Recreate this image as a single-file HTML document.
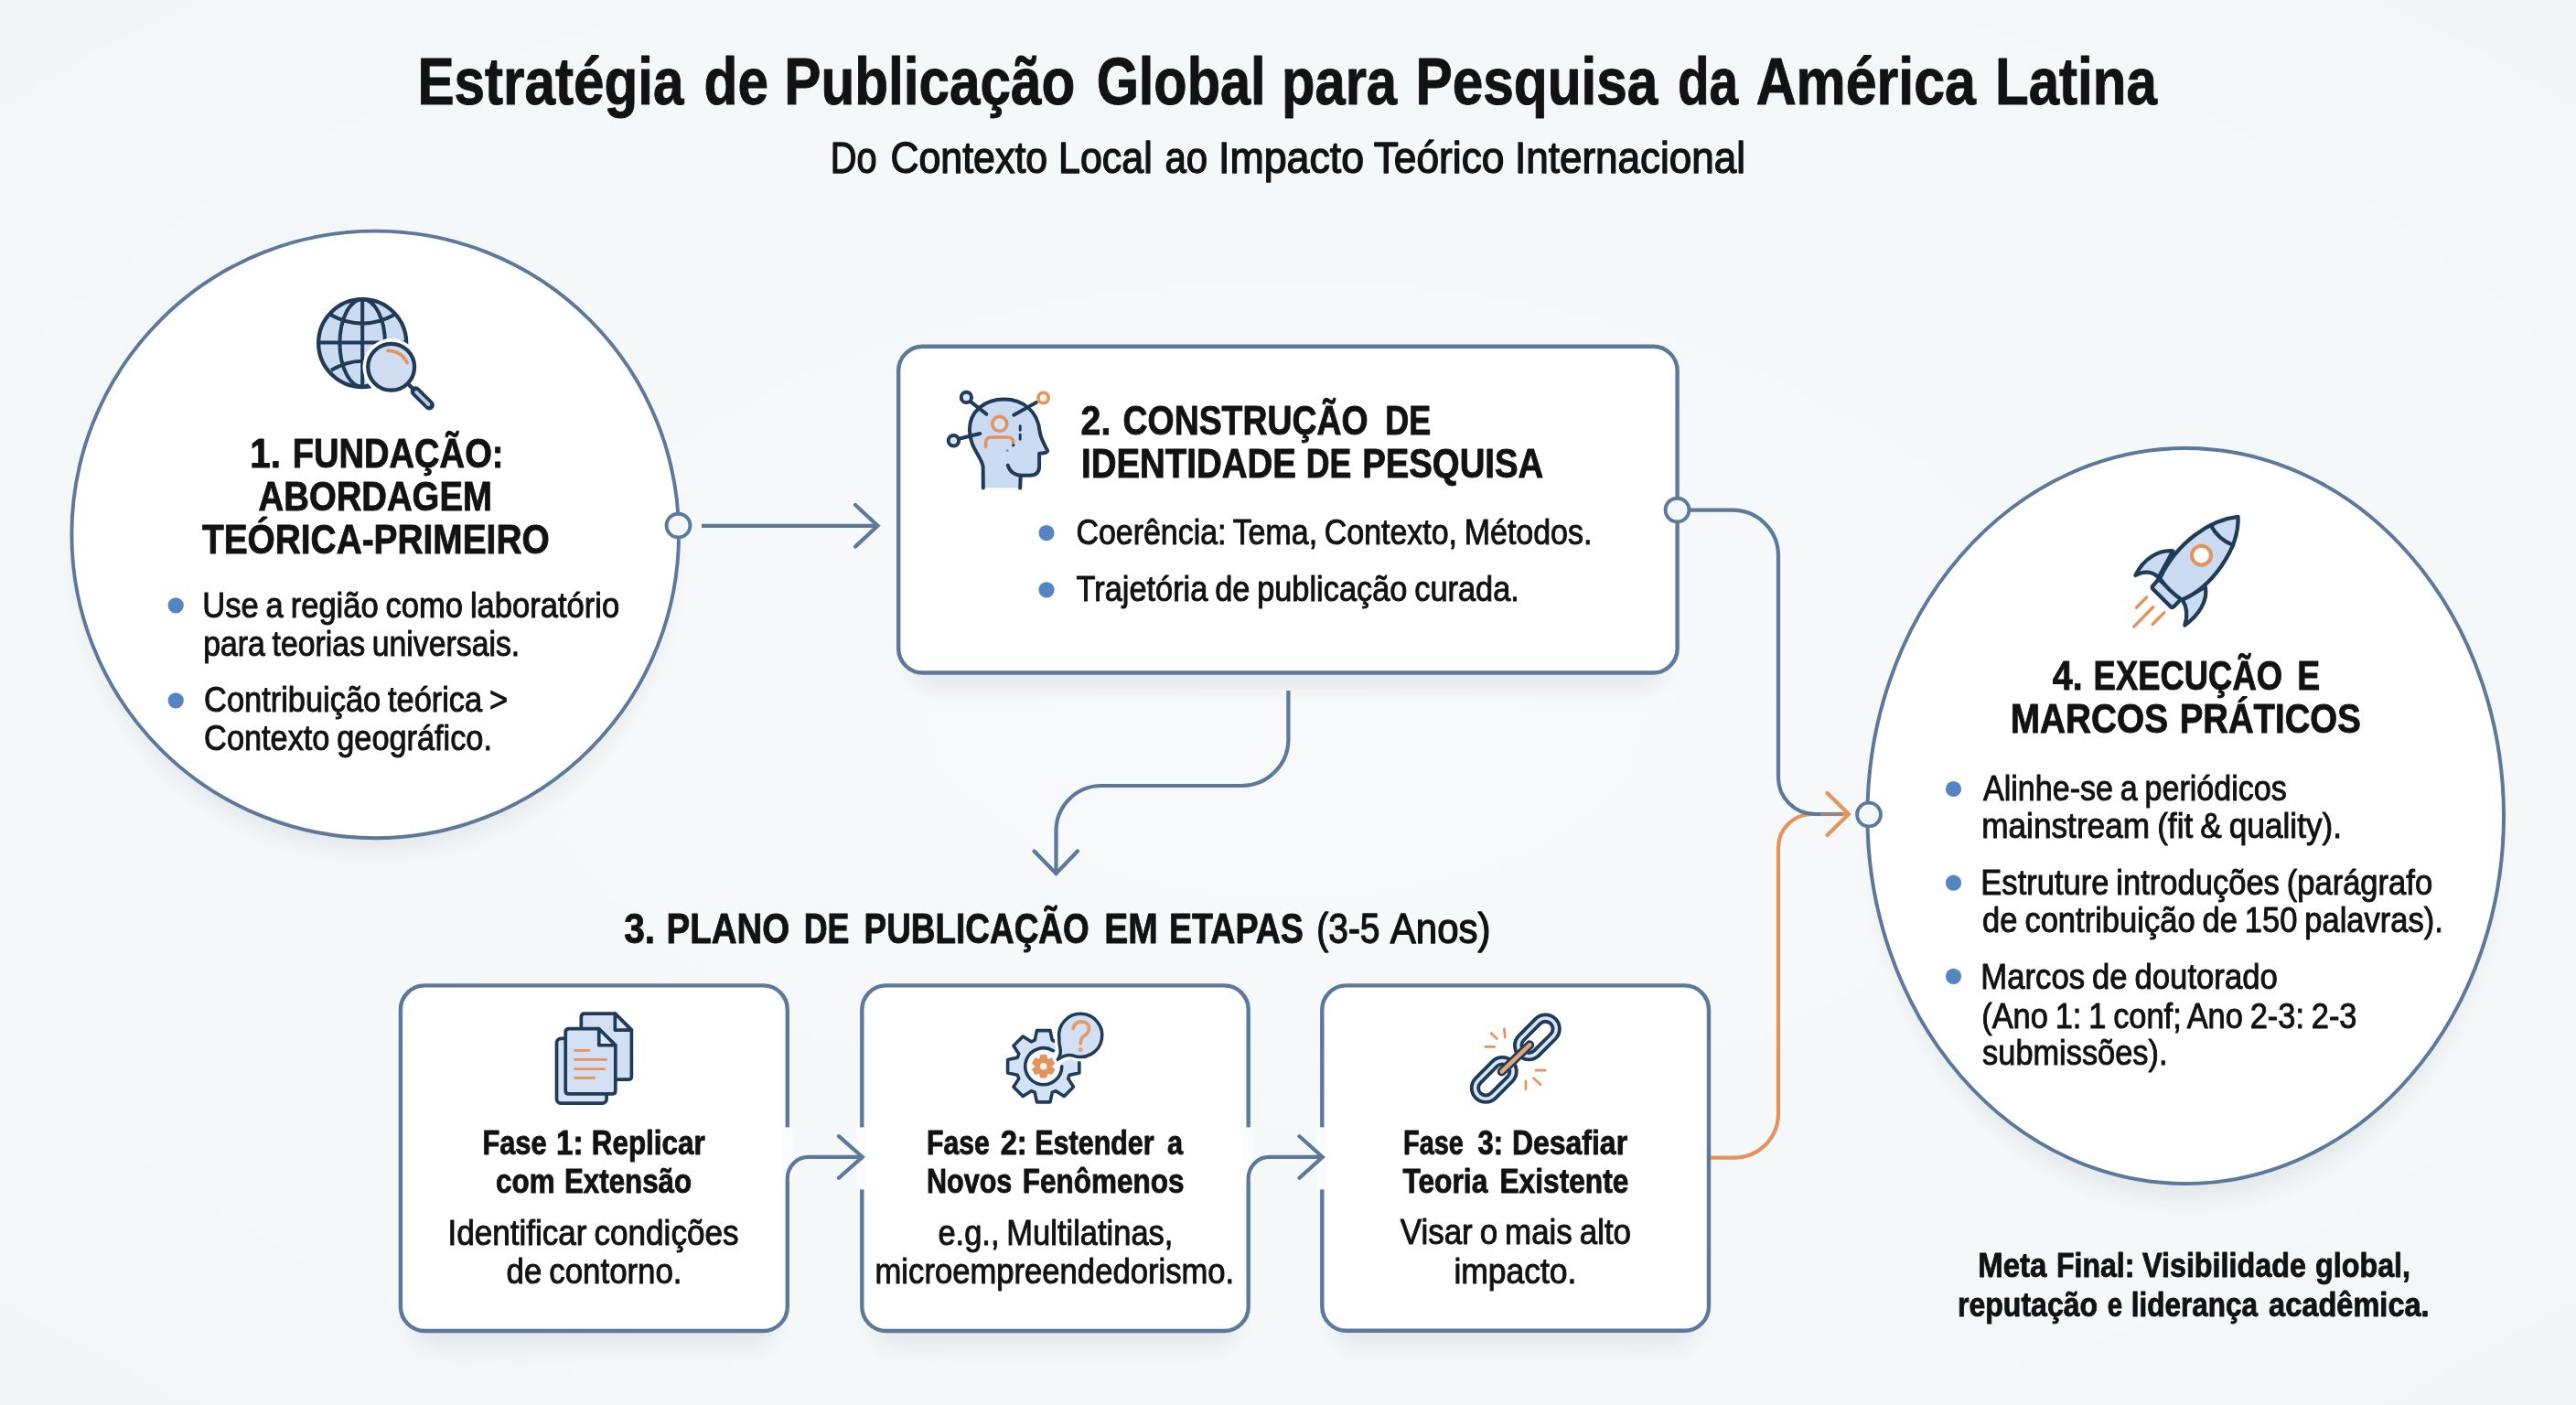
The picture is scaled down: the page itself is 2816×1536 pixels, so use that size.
<!DOCTYPE html>
<html lang="pt"><head><meta charset="utf-8"><title>Estratégia de Publicação Global</title>
<style>
html,body{margin:0;padding:0;background:#f4f7f8;}
body{width:2816px;height:1536px;overflow:hidden;font-family:"Liberation Sans", sans-serif;}
svg{display:block;}
text{font-family:"Liberation Sans", sans-serif;white-space:pre;}
</style></head><body>
<svg width="2816" height="1536" viewBox="0 0 2816 1536">
<defs>
<radialGradient id="bgg" cx="50%" cy="50%" r="70%">
<stop offset="0" stop-color="#f7f9fa"/><stop offset="0.6" stop-color="#f5f8f9"/><stop offset="1" stop-color="#f2f6f7"/>
</radialGradient>
<filter id="blur" x="-5%" y="-5%" width="110%" height="115%"><feGaussianBlur stdDeviation="11"/></filter>
</defs>
<rect width="2816" height="1536" fill="url(#bgg)"/>
<g filter="url(#blur)" fill="#1c2a3a" opacity="0.075"><circle cx="410.2" cy="606" r="324"/><ellipse cx="2389.2" cy="916" rx="338" ry="394"/><rect x="995.2" y="418.7" width="825.3999999999999" height="333.8" rx="26" ry="26"/><rect x="450.9" y="1117.4" width="396.9" height="354.5999999999999" rx="26" ry="26"/><rect x="955.3" y="1117.4" width="396.4000000000001" height="354.5999999999999" rx="26" ry="26"/><rect x="1458.3" y="1117.4" width="396.70000000000005" height="354.39999999999986" rx="26" ry="26"/></g>
<circle cx="410.2" cy="584.4" r="331.8" fill="#ffffff" stroke="#5c789b" stroke-width="3.9"/>
<ellipse cx="2389.2" cy="892" rx="347.8" ry="402" fill="#ffffff" stroke="#5c789b" stroke-width="4"/>
<rect x="982.2" y="378.7" width="851.3999999999999" height="356.8" rx="26.5" ry="26.5" fill="#ffffff" stroke="#5c789b" stroke-width="4.4"/>
<rect x="437.9" y="1077.4" width="422.9" height="377.5999999999999" rx="26.5" ry="26.5" fill="#ffffff" stroke="#5c789b" stroke-width="4.4"/>
<rect x="942.3" y="1077.4" width="422.4000000000001" height="377.5999999999999" rx="26.5" ry="26.5" fill="#ffffff" stroke="#5c789b" stroke-width="4.4"/>
<rect x="1445.3" y="1077.4" width="422.70000000000005" height="377.39999999999986" rx="26.5" ry="26.5" fill="#ffffff" stroke="#5c789b" stroke-width="4.4"/>
<rect x="855" y="1232.4" width="11.6" height="59" fill="#fbfcfd"/>
<rect x="936.5" y="1232.4" width="11.6" height="68" fill="#fbfcfd"/>
<rect x="1359" y="1232.4" width="11.6" height="59" fill="#fbfcfd"/>
<rect x="1439.5" y="1232.4" width="11.6" height="68" fill="#fbfcfd"/>
<path d="M767 574.8 H958" fill="none" stroke="#5c789b" stroke-width="4.2" stroke-linecap="butt" stroke-linejoin="miter"/>
<path d="M935 552 L959.5 574.8 L935 597.6" fill="none" stroke="#5c789b" stroke-width="4.2" stroke-linecap="round" stroke-linejoin="miter"/>
<path d="M1408.4 755 V808 A51 51 0 0 1 1357.4 859 H1204 A49.5 49.5 0 0 0 1154.5 908.5 V953" fill="none" stroke="#5c789b" stroke-width="4.2" stroke-linecap="butt" stroke-linejoin="miter"/>
<path d="M1130.5 930.5 L1154.5 955 L1178 930.5" fill="none" stroke="#5c789b" stroke-width="4.2" stroke-linecap="round" stroke-linejoin="miter"/>
<path d="M1870 1265.6 H1896 A48 48 0 0 0 1944 1217.6 V927 A37 37 0 0 1 1981 890 H2019" fill="none" stroke="#e3935b" stroke-width="4.2" stroke-linecap="butt" stroke-linejoin="miter"/>
<path d="M1997.5 867 L2021 890 L1997.5 913" fill="none" stroke="#e3935b" stroke-width="4.2" stroke-linecap="round" stroke-linejoin="miter"/>
<path d="M1846 557.6 H1894 A50 50 0 0 1 1944 607.6 V850 A40 40 0 0 0 1984 890 H1990" fill="none" stroke="#5c789b" stroke-width="4.2" stroke-linecap="butt" stroke-linejoin="miter"/>
<path d="M1988 890 H2014" fill="none" stroke="#5c789b" stroke-width="4.2" stroke-linecap="butt" stroke-linejoin="miter" opacity="0.55"/>
<path d="M860.8 1292 V1288 A23.1 23.1 0 0 1 883.9 1264.9 H941" fill="none" stroke="#5c789b" stroke-width="4.2" stroke-linecap="butt" stroke-linejoin="miter"/>
<path d="M917 1242.2 L942.8 1264.9 L917 1287.8" fill="none" stroke="#5c789b" stroke-width="4.2" stroke-linecap="round" stroke-linejoin="miter"/>
<path d="M1364.7 1292 V1288 A23.1 23.1 0 0 1 1387.8 1264.9 H1444" fill="none" stroke="#5c789b" stroke-width="4.2" stroke-linecap="butt" stroke-linejoin="miter"/>
<path d="M1420.5 1242.2 L1445.8 1264.9 L1420.5 1287.8" fill="none" stroke="#5c789b" stroke-width="4.2" stroke-linecap="round" stroke-linejoin="miter"/>
<circle cx="741.5" cy="574.6" r="12.9" fill="#f5f8fa" stroke="#5c789b" stroke-width="3.9"/>
<circle cx="1833.5" cy="557.6" r="12.9" fill="#f5f8fa" stroke="#5c789b" stroke-width="3.9"/>
<circle cx="2043" cy="890.5" r="12.9" fill="#f5f8fa" stroke="#5c789b" stroke-width="3.9"/>
<g transform="translate(330,310) scale(0.10673)">
<circle cx="620" cy="610" r="450" fill="#cbdbf1" stroke="#1f3b58" stroke-linecap="round" stroke-linejoin="round" stroke-width="40"/>
<g fill="none" stroke="#1f3b58" stroke-linecap="round" stroke-linejoin="round" stroke-width="38">
<path d="M620 165 V1055"/>
<ellipse cx="620" cy="610" rx="232" ry="448"/>
<path d="M172 605 H1068"/>
<path d="M292 318 Q620 500 948 318" stroke-linecap="butt"/>
<path d="M300 888 Q620 700 940 888" stroke-linecap="butt"/>
</g>
<circle cx="915" cy="855" r="292" fill="#ffffff"/>
<path d="M1090 1030 L1150 1090" fill="none" stroke="#1f3b58" stroke-linecap="round" stroke-linejoin="round" stroke-width="40"/>
<path d="M1165 1105 L1305 1245" fill="none" stroke="#1f3b58" stroke-linecap="round" stroke-linejoin="round" stroke-width="105"/>
<path d="M1172 1112 L1298 1238" fill="none" stroke="#c3cfe6" stroke-linecap="round" stroke-width="34"/>
<circle cx="915" cy="855" r="238" fill="#d0dcf1" stroke="#1f3b58" stroke-linecap="round" stroke-linejoin="round" stroke-width="40"/>
<path d="M880 688 Q1020 690 1078 812" stroke="#e3935b" stroke-linecap="round" stroke-linejoin="round" fill="none" stroke-width="34"/>
</g>
<g transform="translate(1020,410) scale(0.09967)">
<path d="M550 1240 L548 1010 C540 900 400 800 400 600 C400 400 560 265 780 265 C990 265 1150 400 1170 620 C1175 680 1200 720 1255 830 C1260 852 1200 860 1165 860 L1165 1000 C1165 1070 1130 1100 1060 1100 L960 1100 L955 1240 Z" fill="#cbdbf1" stroke="none"/>
<path d="M550 1240 L548 1010 C540 900 400 800 400 600 C400 400 560 265 780 265 C990 265 1150 400 1170 620 C1175 680 1200 720 1255 830 C1260 852 1200 860 1165 860 L1165 1000 C1165 1070 1130 1100 1060 1100 L960 1100 L955 1240" fill="none" stroke="#1f3b58" stroke-linecap="round" stroke-linejoin="round" stroke-width="40"/>
<path d="M820 990 C840 1060 900 1100 960 1100" fill="none" stroke="#1f3b58" stroke-linecap="round" stroke-linejoin="round" stroke-width="40"/>
<path d="M415 295 L585 428" fill="none" stroke="#1f3b58" stroke-linecap="round" stroke-linejoin="round" stroke-width="40" stroke-linecap="butt"/>
<path d="M292 697 L515 642" fill="none" stroke="#1f3b58" stroke-linecap="round" stroke-linejoin="round" stroke-width="40"/>
<path d="M1132 302 L885 438" fill="none" stroke="#1f3b58" stroke-linecap="round" stroke-linejoin="round" stroke-width="40"/>
<circle cx="365" cy="245" r="57" fill="#d9e8f8" stroke="#1f3b58" stroke-linecap="round" stroke-linejoin="round" stroke-width="40"/>
<circle cx="225" cy="720" r="57" fill="#d9e8f8" stroke="#1f3b58" stroke-linecap="round" stroke-linejoin="round" stroke-width="40"/>
<circle cx="1210" cy="250" r="57" fill="#fdf4e8" stroke="#e3935b" stroke-linecap="round" stroke-linejoin="round" fill="none" stroke-width="36"/>
<circle cx="730" cy="535" r="80" fill="#d5e2f5" stroke="#e3935b" stroke-linecap="round" stroke-linejoin="round" fill="none" stroke-width="36"/>
<path d="M578 788 L578 745 Q578 682 645 682 L815 682 Q880 682 880 745 L880 772" stroke="#e3935b" stroke-linecap="round" stroke-linejoin="round" fill="none" stroke-width="36"/>
<path d="M955 560 V605 M955 655 V705" fill="none" stroke="#1f3b58" stroke-linecap="round" stroke-linejoin="round" stroke-width="30"/>
<circle cx="880" cy="770" r="16" fill="#1f3b58"/>
<circle cx="815" cy="830" r="14" fill="#7f93ad"/>
</g>
<g transform="translate(590,1090) scale(0.09252)">
<rect x="200" y="490" width="590" height="765" rx="50" fill="#d3e2f5" stroke="#1f3b58" stroke-linecap="round" stroke-linejoin="round" stroke-width="40"/>
<path d="M530 195 L890 195 L1085 390 L1085 935 Q1085 975 1045 975 L530 975 Q490 975 490 935 L490 235 Q490 195 530 195 Z" fill="#d3e0f4" stroke="#1f3b58" stroke-linecap="round" stroke-linejoin="round" stroke-width="40"/>
<path d="M890 195 L890 390 L1085 390 Z" fill="#dbe9f8" stroke="#1f3b58" stroke-linecap="round" stroke-linejoin="round" stroke-width="40"/>
<path d="M345 375 L700 375 L895 570 L895 1105 Q895 1145 855 1145 L345 1145 Q305 1145 305 1105 L305 415 Q305 375 345 375 Z" fill="#d3e0f4" stroke="#1f3b58" stroke-linecap="round" stroke-linejoin="round" stroke-width="40"/>
<path d="M700 375 L700 570 L895 570 Z" fill="#dbe9f8" stroke="#1f3b58" stroke-linecap="round" stroke-linejoin="round" stroke-width="40"/>
<path d="M415 630 H585 M415 738 H785 M415 850 H765 M415 955 H645" stroke="#e3935b" stroke-linecap="round" stroke-linejoin="round" fill="none" stroke-width="30"/>
</g>
<g transform="translate(1090,1095) scale(0.08898)">
<path d="M890.5 687.8 L1009.5 713.5 L1009.5 876.5 L890.5 902.2 L872.5 945.8 L938.4 1048.2 L823.2 1163.4 L720.8 1097.5 L677.2 1115.5 L651.5 1234.5 L488.5 1234.5 L462.8 1115.5 L419.2 1097.5 L316.8 1163.4 L201.6 1048.2 L267.5 945.8 L249.5 902.2 L130.5 876.5 L130.5 713.5 L249.5 687.8 L267.5 644.2 L201.6 541.8 L316.8 426.6 L419.2 492.5 L462.8 474.5 L488.5 355.5 L651.5 355.5 L677.2 474.5 L720.8 492.5 L823.2 426.6 L938.4 541.8 L872.5 644.2 Z" fill="#d3e2f5" stroke="#1f3b58" stroke-linecap="round" stroke-linejoin="round" stroke-width="40"/>
<circle cx="570" cy="795" r="225" fill="#f6f9fc" stroke="none"/>
<path d="M689 604 A225 225 0 1 0 795 795" fill="none" stroke="#1f3b58" stroke-linecap="round" stroke-linejoin="round" stroke-width="40"/>
<path d="M667.5 805.2 L699.1 834.5 L668.7 887.1 L627.6 874.3 L609.9 884.5 L600.4 926.5 L539.6 926.5 L530.1 884.5 L512.4 874.3 L471.3 887.1 L440.9 834.5 L472.5 805.2 L472.5 784.8 L440.9 755.5 L471.3 702.9 L512.4 715.7 L530.1 705.5 L539.6 663.5 L600.4 663.5 L609.9 705.5 L627.6 715.7 L668.7 702.9 L699.1 755.5 L667.5 784.8 Z" fill="#e3935b" stroke="#e3935b" stroke-width="22" stroke-linejoin="round"/>
<circle cx="570" cy="795" r="42" fill="#fff7ee"/>
<path d="M745 712 Q790 650 775 570 Q760 520 762 450 A265 265 0 1 1 935 664 Q850 640 745 712 Z" fill="#ffffff" stroke="#ffffff" stroke-width="110" stroke-linejoin="round"/>
<path d="M745 712 Q790 650 775 570 Q760 520 762 450 A265 265 0 1 1 935 664 Q850 640 745 712 Z" fill="#d3e0f4" stroke="#1f3b58" stroke-linecap="round" stroke-linejoin="round" stroke-width="40"/>
<path d="M935 330 Q950 245 1040 245 Q1128 250 1128 330 Q1128 385 1065 425 Q1025 455 1025 515" stroke="#e3935b" stroke-linecap="round" stroke-linejoin="round" fill="none" stroke-width="42" opacity="0.9"/>
<circle cx="1025" cy="592" r="26" fill="#e3935b" opacity="0.9"/>
</g>
<g transform="translate(1595,1095) scale(0.08897)">
<g transform="translate(430,960) rotate(-45)"><rect x="-276" y="-132" width="552" height="264" rx="132" fill="none" stroke="#1f3b58" stroke-width="126"/><rect x="-276" y="-132" width="552" height="264" rx="132" fill="none" stroke="#d4e6f8" stroke-width="40"/></g>
<g transform="translate(960,437) rotate(-45)"><rect x="-276" y="-132" width="552" height="264" rx="132" fill="none" stroke="#1f3b58" stroke-width="126"/><rect x="-276" y="-132" width="552" height="264" rx="132" fill="none" stroke="#d4e6f8" stroke-width="40"/></g>
<path d="M525 860 L868 532" fill="none" stroke="#1f3b58" stroke-width="112" stroke-linecap="round"/>
<path d="M525 860 L868 532" fill="none" stroke="#e6a273" stroke-width="52" stroke-linecap="round"/>
<path d="M555 335 L565 440 M395 390 L465 455 M325 555 H435 M945 845 H1060 M915 940 L1000 1020 M820 975 V1075" stroke="#e3935b" stroke-linecap="round" stroke-linejoin="round" fill="none" stroke-width="30"/>
</g>
<g transform="translate(2320,550) scale(0.10679)">
<path d="M520 490 C380 478 220 560 135 740 C220 690 310 700 370 762 Z" fill="#cbdbf1" stroke="#1f3b58" stroke-linecap="round" stroke-linejoin="round" stroke-width="40"/>
<path d="M850 858 C880 1000 780 1150 640 1250 C672 1150 660 1060 615 990 Z" fill="#cbdbf1" stroke="#1f3b58" stroke-linecap="round" stroke-linejoin="round" stroke-width="40"/>
<path d="M372 778 L312 848 Q300 865 315 880 L495 1060 Q510 1075 527 1060 L600 985 Z" fill="#cbdbf1" stroke="#1f3b58" stroke-linecap="round" stroke-linejoin="round" stroke-width="40"/>
<path d="M1185 140 C900 170 560 400 385 770 Q480 905 610 990 C900 870 1200 480 1185 140 Z" fill="#cbdbf1" stroke="#1f3b58" stroke-linecap="round" stroke-linejoin="round" stroke-width="40"/>
<path d="M905 225 Q980 370 1135 432" fill="none" stroke="#1f3b58" stroke-linecap="round" stroke-linejoin="round" stroke-width="40"/>
<circle cx="810" cy="535" r="98" fill="#ffffff" stroke="#e3935b" stroke-linecap="round" stroke-linejoin="round" fill="none" stroke-width="38"/>
<path d="M145 1070 L250 965 M120 1265 L315 1065 M310 1240 L430 1120" stroke="#e3935b" stroke-linecap="round" stroke-linejoin="round" fill="none" stroke-width="32"/>
</g>
<circle cx="192.2" cy="661.8" r="8.6" fill="#5484c4"/>
<circle cx="192.2" cy="765.8" r="8.6" fill="#5484c4"/>
<circle cx="1144" cy="582.6" r="8.6" fill="#5484c4"/>
<circle cx="1144" cy="644.8" r="8.6" fill="#5484c4"/>
<circle cx="2135.5" cy="862.5" r="8.6" fill="#5484c4"/>
<circle cx="2135.5" cy="965.2" r="8.6" fill="#5484c4"/>
<circle cx="2135.5" cy="1067.3" r="8.6" fill="#5484c4"/>
<g opacity="0.999">
<text x="456.43" y="113.55" font-size="71.5" font-weight="700" word-spacing="-3.58" textLength="290.93" lengthAdjust="spacingAndGlyphs" fill="#121212" stroke="#121212" stroke-width="1.0" stroke-linejoin="round">Estratégia</text>
<text x="769.51" y="113.55" font-size="71.5" font-weight="700" word-spacing="-3.58" textLength="70.48" lengthAdjust="spacingAndGlyphs" fill="#121212" stroke="#121212" stroke-width="1.0" stroke-linejoin="round">de</text>
<text x="857.23" y="113.55" font-size="71.5" font-weight="700" word-spacing="-3.58" textLength="318.13" lengthAdjust="spacingAndGlyphs" fill="#121212" stroke="#121212" stroke-width="1.0" stroke-linejoin="round">Publicação</text>
<text x="1198.64" y="113.55" font-size="71.5" font-weight="700" word-spacing="-3.58" textLength="184.91" lengthAdjust="spacingAndGlyphs" fill="#121212" stroke="#121212" stroke-width="1.0" stroke-linejoin="round">Global</text>
<text x="1400.96" y="113.55" font-size="71.5" font-weight="700" word-spacing="-3.58" textLength="126.11" lengthAdjust="spacingAndGlyphs" fill="#121212" stroke="#121212" stroke-width="1.0" stroke-linejoin="round">para</text>
<text x="1547.53" y="113.55" font-size="71.5" font-weight="700" word-spacing="-3.58" textLength="264.83" lengthAdjust="spacingAndGlyphs" fill="#121212" stroke="#121212" stroke-width="1.0" stroke-linejoin="round">Pesquisa</text>
<text x="1833.91" y="113.55" font-size="71.5" font-weight="700" word-spacing="-3.58" textLength="66.21" lengthAdjust="spacingAndGlyphs" fill="#121212" stroke="#121212" stroke-width="1.0" stroke-linejoin="round">da</text>
<text x="1919.65" y="113.55" font-size="71.5" font-weight="700" word-spacing="-3.58" textLength="240.20" lengthAdjust="spacingAndGlyphs" fill="#121212" stroke="#121212" stroke-width="1.0" stroke-linejoin="round">América</text>
<text x="2180.94" y="113.55" font-size="71.5" font-weight="700" word-spacing="-3.58" textLength="176.92" lengthAdjust="spacingAndGlyphs" fill="#121212" stroke="#121212" stroke-width="1.0" stroke-linejoin="round">Latina</text>
<text x="907.81" y="189.17" font-size="48" font-weight="400" word-spacing="-2.40" textLength="50.89" lengthAdjust="spacingAndGlyphs" fill="#121212" stroke="#121212" stroke-width="1.4" stroke-linejoin="round">Do</text>
<text x="973.51" y="189.17" font-size="48" font-weight="400" word-spacing="-2.40" textLength="171.70" lengthAdjust="spacingAndGlyphs" fill="#121212" stroke="#121212" stroke-width="1.4" stroke-linejoin="round">Contexto</text>
<text x="1157.02" y="189.17" font-size="48" font-weight="400" word-spacing="-2.40" textLength="102.67" lengthAdjust="spacingAndGlyphs" fill="#121212" stroke="#121212" stroke-width="1.4" stroke-linejoin="round">Local</text>
<text x="1273.45" y="189.17" font-size="48" font-weight="400" word-spacing="-2.40" textLength="46.73" lengthAdjust="spacingAndGlyphs" fill="#121212" stroke="#121212" stroke-width="1.4" stroke-linejoin="round">ao</text>
<text x="1331.97" y="189.17" font-size="48" font-weight="400" word-spacing="-2.40" textLength="159.11" lengthAdjust="spacingAndGlyphs" fill="#121212" stroke="#121212" stroke-width="1.4" stroke-linejoin="round">Impacto</text>
<text x="1501.68" y="189.17" font-size="48" font-weight="400" word-spacing="-2.40" textLength="142.79" lengthAdjust="spacingAndGlyphs" fill="#121212" stroke="#121212" stroke-width="1.4" stroke-linejoin="round">Teórico</text>
<text x="1656.03" y="189.17" font-size="48" font-weight="400" word-spacing="-2.40" textLength="252.01" lengthAdjust="spacingAndGlyphs" fill="#121212" stroke="#121212" stroke-width="1.4" stroke-linejoin="round">Internacional</text>
<text x="273.33" y="511.10" font-size="44.5" font-weight="700" word-spacing="-2.23" textLength="33.77" lengthAdjust="spacingAndGlyphs" fill="#121212" stroke="#121212" stroke-width="0.9" stroke-linejoin="round">1.</text>
<text x="319.64" y="511.10" font-size="44.5" font-weight="700" word-spacing="-2.23" textLength="230.89" lengthAdjust="spacingAndGlyphs" fill="#121212" stroke="#121212" stroke-width="0.9" stroke-linejoin="round">FUNDAÇÃO:</text>
<text x="282.59" y="558.10" font-size="44.5" font-weight="700" word-spacing="-2.23" textLength="255.24" lengthAdjust="spacingAndGlyphs" fill="#121212" stroke="#121212" stroke-width="0.9" stroke-linejoin="round">ABORDAGEM</text>
<text x="220.95" y="605.10" font-size="44.5" font-weight="700" word-spacing="-2.23" textLength="379.71" lengthAdjust="spacingAndGlyphs" fill="#121212" stroke="#121212" stroke-width="0.9" stroke-linejoin="round">TEÓRICA-PRIMEIRO</text>
<text x="221.34" y="674.55" font-size="39" font-weight="400" word-spacing="-1.95" textLength="455.77" lengthAdjust="spacingAndGlyphs" fill="#121212" stroke="#121212" stroke-width="1.0" stroke-linejoin="round">Use a região como laboratório</text>
<text x="222.27" y="716.85" font-size="39" font-weight="400" word-spacing="-1.95" textLength="345.99" lengthAdjust="spacingAndGlyphs" fill="#121212" stroke="#121212" stroke-width="1.0" stroke-linejoin="round">para teorias universais.</text>
<text x="223.12" y="778.35" font-size="39" font-weight="400" word-spacing="-1.95" textLength="331.95" lengthAdjust="spacingAndGlyphs" fill="#121212" stroke="#121212" stroke-width="1.0" stroke-linejoin="round">Contribuição teórica &gt;</text>
<text x="223.12" y="820.35" font-size="39" font-weight="400" word-spacing="-1.95" textLength="314.87" lengthAdjust="spacingAndGlyphs" fill="#121212" stroke="#121212" stroke-width="1.0" stroke-linejoin="round">Contexto geográfico.</text>
<text x="1181.57" y="474.90" font-size="44.5" font-weight="700" word-spacing="-2.23" textLength="32.77" lengthAdjust="spacingAndGlyphs" fill="#121212" stroke="#121212" stroke-width="0.9" stroke-linejoin="round">2.</text>
<text x="1227.61" y="474.90" font-size="44.5" font-weight="700" word-spacing="-2.23" textLength="267.90" lengthAdjust="spacingAndGlyphs" fill="#121212" stroke="#121212" stroke-width="0.9" stroke-linejoin="round">CONSTRUÇÃO</text>
<text x="1514.33" y="474.90" font-size="44.5" font-weight="700" word-spacing="-2.23" textLength="49.98" lengthAdjust="spacingAndGlyphs" fill="#121212" stroke="#121212" stroke-width="0.9" stroke-linejoin="round">DE</text>
<text x="1182.02" y="522.30" font-size="44.5" font-weight="700" word-spacing="-2.23" textLength="234.98" lengthAdjust="spacingAndGlyphs" fill="#121212" stroke="#121212" stroke-width="0.9" stroke-linejoin="round">IDENTIDADE</text>
<text x="1427.75" y="522.30" font-size="44.5" font-weight="700" word-spacing="-2.23" textLength="49.55" lengthAdjust="spacingAndGlyphs" fill="#121212" stroke="#121212" stroke-width="0.9" stroke-linejoin="round">DE</text>
<text x="1489.13" y="522.30" font-size="44.5" font-weight="700" word-spacing="-2.23" textLength="198.10" lengthAdjust="spacingAndGlyphs" fill="#121212" stroke="#121212" stroke-width="0.9" stroke-linejoin="round">PESQUISA</text>
<text x="1176.43" y="595.35" font-size="39" font-weight="400" word-spacing="-1.95" textLength="563.93" lengthAdjust="spacingAndGlyphs" fill="#121212" stroke="#121212" stroke-width="1.0" stroke-linejoin="round">Coerência: Tema, Contexto, Métodos.</text>
<text x="1176.50" y="657.15" font-size="39" font-weight="400" word-spacing="-1.95" textLength="484.30" lengthAdjust="spacingAndGlyphs" fill="#121212" stroke="#121212" stroke-width="1.0" stroke-linejoin="round">Trajetória de publicação curada.</text>
<text x="682.18" y="1031.10" font-size="47" font-weight="700" word-spacing="-2.35" textLength="34.02" lengthAdjust="spacingAndGlyphs" fill="#121212" stroke="#121212" stroke-width="0.9" stroke-linejoin="round">3.</text>
<text x="728.49" y="1031.10" font-size="47" font-weight="700" word-spacing="-2.35" textLength="134.84" lengthAdjust="spacingAndGlyphs" fill="#121212" stroke="#121212" stroke-width="0.9" stroke-linejoin="round">PLANO</text>
<text x="878.66" y="1031.10" font-size="47" font-weight="700" word-spacing="-2.35" textLength="49.82" lengthAdjust="spacingAndGlyphs" fill="#121212" stroke="#121212" stroke-width="0.9" stroke-linejoin="round">DE</text>
<text x="944.59" y="1031.10" font-size="47" font-weight="700" word-spacing="-2.35" textLength="246.08" lengthAdjust="spacingAndGlyphs" fill="#121212" stroke="#121212" stroke-width="0.9" stroke-linejoin="round">PUBLICAÇÃO</text>
<text x="1207.26" y="1031.10" font-size="47" font-weight="700" word-spacing="-2.35" textLength="58.50" lengthAdjust="spacingAndGlyphs" fill="#121212" stroke="#121212" stroke-width="0.9" stroke-linejoin="round">EM</text>
<text x="1278.05" y="1031.10" font-size="47" font-weight="700" word-spacing="-2.35" textLength="146.88" lengthAdjust="spacingAndGlyphs" fill="#121212" stroke="#121212" stroke-width="0.9" stroke-linejoin="round">ETAPAS</text>
<text x="1439.35" y="1030.87" font-size="47" font-weight="400" word-spacing="-2.35" textLength="69.10" lengthAdjust="spacingAndGlyphs" fill="#121212" stroke="#121212" stroke-width="1.4" stroke-linejoin="round">(3-5</text>
<text x="1519.80" y="1030.87" font-size="47" font-weight="400" word-spacing="-2.35" textLength="109.67" lengthAdjust="spacingAndGlyphs" fill="#121212" stroke="#121212" stroke-width="1.4" stroke-linejoin="round">Anos)</text>
<text x="527.38" y="1262.00" font-size="37" font-weight="700" word-spacing="-1.85" textLength="70.25" lengthAdjust="spacingAndGlyphs" fill="#121212" stroke="#121212" stroke-width="0.9" stroke-linejoin="round">Fase</text>
<text x="607.96" y="1262.00" font-size="37" font-weight="700" word-spacing="-1.85" textLength="29.47" lengthAdjust="spacingAndGlyphs" fill="#121212" stroke="#121212" stroke-width="0.9" stroke-linejoin="round">1:</text>
<text x="646.86" y="1262.00" font-size="37" font-weight="700" word-spacing="-1.85" textLength="123.73" lengthAdjust="spacingAndGlyphs" fill="#121212" stroke="#121212" stroke-width="0.9" stroke-linejoin="round">Replicar</text>
<text x="542.10" y="1304.30" font-size="37" font-weight="700" word-spacing="-1.85" textLength="64.46" lengthAdjust="spacingAndGlyphs" fill="#121212" stroke="#121212" stroke-width="0.9" stroke-linejoin="round">com</text>
<text x="616.96" y="1304.30" font-size="37" font-weight="700" word-spacing="-1.85" textLength="139.10" lengthAdjust="spacingAndGlyphs" fill="#121212" stroke="#121212" stroke-width="0.9" stroke-linejoin="round">Extensão</text>
<text x="489.40" y="1360.95" font-size="39" font-weight="400" word-spacing="-1.95" textLength="318.15" lengthAdjust="spacingAndGlyphs" fill="#121212" stroke="#121212" stroke-width="1.0" stroke-linejoin="round">Identificar condições</text>
<text x="553.61" y="1402.75" font-size="39" font-weight="400" word-spacing="-1.95" textLength="191.93" lengthAdjust="spacingAndGlyphs" fill="#121212" stroke="#121212" stroke-width="1.0" stroke-linejoin="round">de contorno.</text>
<text x="1013.12" y="1261.89" font-size="37" font-weight="700" word-spacing="-1.85" textLength="68.80" lengthAdjust="spacingAndGlyphs" fill="#121212" stroke="#121212" stroke-width="0.9" stroke-linejoin="round">Fase</text>
<text x="1093.66" y="1261.89" font-size="37" font-weight="700" word-spacing="-1.85" textLength="29.13" lengthAdjust="spacingAndGlyphs" fill="#121212" stroke="#121212" stroke-width="0.9" stroke-linejoin="round">2:</text>
<text x="1131.30" y="1261.89" font-size="37" font-weight="700" word-spacing="-1.85" textLength="130.38" lengthAdjust="spacingAndGlyphs" fill="#121212" stroke="#121212" stroke-width="0.9" stroke-linejoin="round">Estender</text>
<text x="1275.92" y="1261.89" font-size="37" font-weight="700" word-spacing="-1.85" textLength="17.08" lengthAdjust="spacingAndGlyphs" fill="#121212" stroke="#121212" stroke-width="0.9" stroke-linejoin="round">a</text>
<text x="1013.10" y="1304.19" font-size="37" font-weight="700" word-spacing="-1.85" textLength="93.23" lengthAdjust="spacingAndGlyphs" fill="#121212" stroke="#121212" stroke-width="0.9" stroke-linejoin="round">Novos</text>
<text x="1117.85" y="1304.19" font-size="37" font-weight="700" word-spacing="-1.85" textLength="176.59" lengthAdjust="spacingAndGlyphs" fill="#121212" stroke="#121212" stroke-width="0.9" stroke-linejoin="round">Fenômenos</text>
<text x="1025.42" y="1360.95" font-size="39" font-weight="400" word-spacing="-1.95" textLength="256.99" lengthAdjust="spacingAndGlyphs" fill="#121212" stroke="#121212" stroke-width="1.0" stroke-linejoin="round">e.g., Multilatinas,</text>
<text x="956.52" y="1402.75" font-size="39" font-weight="400" word-spacing="-1.95" textLength="392.69" lengthAdjust="spacingAndGlyphs" fill="#121212" stroke="#121212" stroke-width="1.0" stroke-linejoin="round">microempreendedorismo.</text>
<text x="1534.09" y="1261.80" font-size="37" font-weight="700" word-spacing="-1.85" textLength="65.81" lengthAdjust="spacingAndGlyphs" fill="#121212" stroke="#121212" stroke-width="0.9" stroke-linejoin="round">Fase</text>
<text x="1615.55" y="1261.80" font-size="37" font-weight="700" word-spacing="-1.85" textLength="27.47" lengthAdjust="spacingAndGlyphs" fill="#121212" stroke="#121212" stroke-width="0.9" stroke-linejoin="round">3:</text>
<text x="1652.92" y="1261.80" font-size="37" font-weight="700" word-spacing="-1.85" textLength="126.17" lengthAdjust="spacingAndGlyphs" fill="#121212" stroke="#121212" stroke-width="0.9" stroke-linejoin="round">Desafiar</text>
<text x="1533.45" y="1303.89" font-size="37" font-weight="700" word-spacing="-1.85" textLength="92.84" lengthAdjust="spacingAndGlyphs" fill="#121212" stroke="#121212" stroke-width="0.9" stroke-linejoin="round">Teoria</text>
<text x="1639.44" y="1303.89" font-size="37" font-weight="700" word-spacing="-1.85" textLength="140.91" lengthAdjust="spacingAndGlyphs" fill="#121212" stroke="#121212" stroke-width="0.9" stroke-linejoin="round">Existente</text>
<text x="1530.80" y="1360.35" font-size="39" font-weight="400" word-spacing="-1.95" textLength="252.22" lengthAdjust="spacingAndGlyphs" fill="#121212" stroke="#121212" stroke-width="1.0" stroke-linejoin="round">Visar o mais alto</text>
<text x="1589.38" y="1402.55" font-size="39" font-weight="400" word-spacing="-1.95" textLength="134.10" lengthAdjust="spacingAndGlyphs" fill="#121212" stroke="#121212" stroke-width="1.0" stroke-linejoin="round">impacto.</text>
<text x="2243.75" y="753.60" font-size="44.5" font-weight="700" word-spacing="-2.23" textLength="32.89" lengthAdjust="spacingAndGlyphs" fill="#121212" stroke="#121212" stroke-width="0.9" stroke-linejoin="round">4.</text>
<text x="2288.61" y="753.60" font-size="44.5" font-weight="700" word-spacing="-2.23" textLength="206.46" lengthAdjust="spacingAndGlyphs" fill="#121212" stroke="#121212" stroke-width="0.9" stroke-linejoin="round">EXECUÇÃO</text>
<text x="2511.27" y="753.60" font-size="44.5" font-weight="700" word-spacing="-2.23" textLength="25.00" lengthAdjust="spacingAndGlyphs" fill="#121212" stroke="#121212" stroke-width="0.9" stroke-linejoin="round">E</text>
<text x="2197.71" y="800.60" font-size="44.5" font-weight="700" word-spacing="-2.23" textLength="172.31" lengthAdjust="spacingAndGlyphs" fill="#121212" stroke="#121212" stroke-width="0.9" stroke-linejoin="round">MARCOS</text>
<text x="2382.73" y="800.60" font-size="44.5" font-weight="700" word-spacing="-2.23" textLength="197.97" lengthAdjust="spacingAndGlyphs" fill="#121212" stroke="#121212" stroke-width="0.9" stroke-linejoin="round">PRÁTICOS</text>
<text x="2168.00" y="874.65" font-size="39" font-weight="400" word-spacing="-1.95" textLength="331.84" lengthAdjust="spacingAndGlyphs" fill="#121212" stroke="#121212" stroke-width="1.0" stroke-linejoin="round">Alinhe-se a periódicos</text>
<text x="2166.19" y="916.25" font-size="39" font-weight="400" word-spacing="-1.95" textLength="393.87" lengthAdjust="spacingAndGlyphs" fill="#121212" stroke="#121212" stroke-width="1.0" stroke-linejoin="round">mainstream (fit &amp; quality).</text>
<text x="2165.34" y="977.75" font-size="39" font-weight="400" word-spacing="-1.95" textLength="493.77" lengthAdjust="spacingAndGlyphs" fill="#121212" stroke="#121212" stroke-width="1.0" stroke-linejoin="round">Estruture introduções (parágrafo</text>
<text x="2167.11" y="1019.45" font-size="39" font-weight="400" word-spacing="-1.95" textLength="503.80" lengthAdjust="spacingAndGlyphs" fill="#121212" stroke="#121212" stroke-width="1.0" stroke-linejoin="round">de contribuição de 150 palavras).</text>
<text x="2165.33" y="1080.75" font-size="39" font-weight="400" word-spacing="-1.95" textLength="324.48" lengthAdjust="spacingAndGlyphs" fill="#121212" stroke="#121212" stroke-width="1.0" stroke-linejoin="round">Marcos de doutorado</text>
<text x="2166.24" y="1123.65" font-size="39" font-weight="400" word-spacing="-1.95" textLength="410.24" lengthAdjust="spacingAndGlyphs" fill="#121212" stroke="#121212" stroke-width="1.0" stroke-linejoin="round">(Ano 1: 1 conf; Ano 2-3: 2-3</text>
<text x="2167.12" y="1163.55" font-size="39" font-weight="400" word-spacing="-1.95" textLength="202.38" lengthAdjust="spacingAndGlyphs" fill="#121212" stroke="#121212" stroke-width="1.0" stroke-linejoin="round">submissões).</text>
<text x="2162.17" y="1396.39" font-size="37" font-weight="700" word-spacing="-1.85" textLength="75.21" lengthAdjust="spacingAndGlyphs" fill="#121212" stroke="#121212" stroke-width="0.9" stroke-linejoin="round">Meta</text>
<text x="2248.02" y="1396.39" font-size="37" font-weight="700" word-spacing="-1.85" textLength="85.41" lengthAdjust="spacingAndGlyphs" fill="#121212" stroke="#121212" stroke-width="0.9" stroke-linejoin="round">Final:</text>
<text x="2341.95" y="1396.39" font-size="37" font-weight="700" word-spacing="-1.85" textLength="179.10" lengthAdjust="spacingAndGlyphs" fill="#121212" stroke="#121212" stroke-width="0.9" stroke-linejoin="round">Visibilidade</text>
<text x="2531.08" y="1396.39" font-size="37" font-weight="700" word-spacing="-1.85" textLength="103.96" lengthAdjust="spacingAndGlyphs" fill="#121212" stroke="#121212" stroke-width="0.9" stroke-linejoin="round">global,</text>
<text x="2140.02" y="1438.69" font-size="37" font-weight="700" word-spacing="-1.85" textLength="153.05" lengthAdjust="spacingAndGlyphs" fill="#121212" stroke="#121212" stroke-width="0.9" stroke-linejoin="round">reputação</text>
<text x="2303.66" y="1438.69" font-size="37" font-weight="700" word-spacing="-1.85" textLength="16.35" lengthAdjust="spacingAndGlyphs" fill="#121212" stroke="#121212" stroke-width="0.9" stroke-linejoin="round">e</text>
<text x="2329.75" y="1438.69" font-size="37" font-weight="700" word-spacing="-1.85" textLength="138.24" lengthAdjust="spacingAndGlyphs" fill="#121212" stroke="#121212" stroke-width="0.9" stroke-linejoin="round">liderança</text>
<text x="2480.07" y="1438.69" font-size="37" font-weight="700" word-spacing="-1.85" textLength="175.59" lengthAdjust="spacingAndGlyphs" fill="#121212" stroke="#121212" stroke-width="0.9" stroke-linejoin="round">acadêmica.</text>
</g>
</svg>
</body></html>
